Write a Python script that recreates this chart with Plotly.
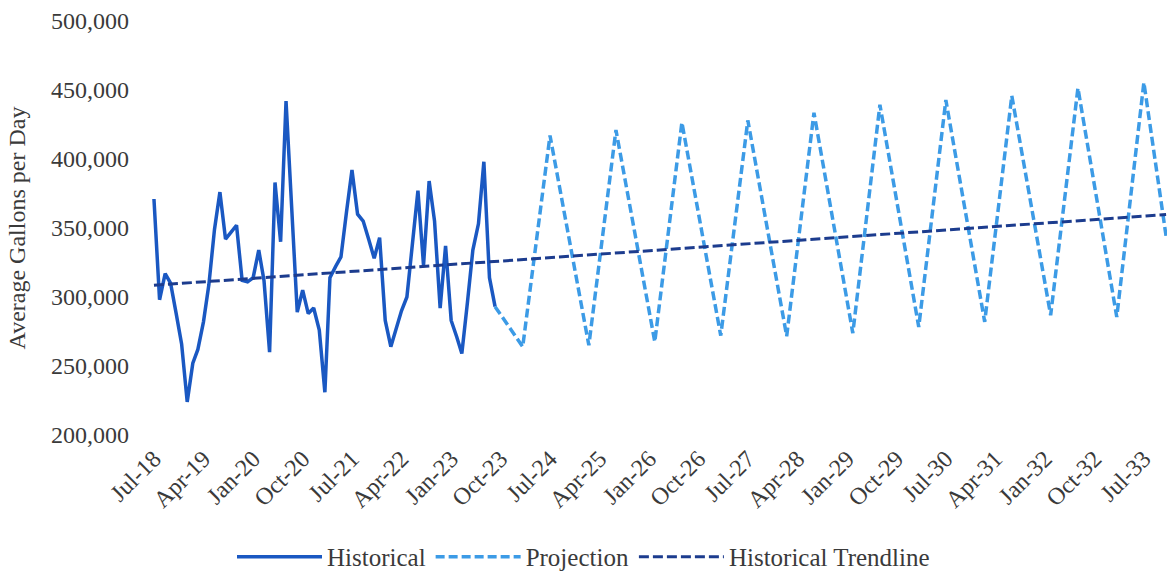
import plotly.graph_objects as go
import pandas as pd

# Historical monthly values, Jul-2018 .. Sep-2023 (gallons per day)
hist_start = "2018-07-01"
hist_values = [
    371000, 298000, 317000, 310000, 288000, 266000, 224000, 252000, 262000, 282000,
    309000, 349000, 376000, 342000, 347000, 352000, 312000, 311000, 314000, 334000,
    312000, 260000, 383000, 340000, 442000, 365000, 289000, 305000, 288000, 292000,
    276000, 231000, 314000, 322000, 329000, 362000, 392000, 360000, 355000, 342000,
    328000, 343000, 283000, 264000, 277000, 290000, 300000, 338000, 377000, 323000,
    384000, 355000, 292000, 337000, 283000, 271000, 259000, 296000, 334000, 353000,
    398000, 314000, 293000,
]
hist_dates = pd.date_range(hist_start, periods=len(hist_values), freq="MS")

# Projection turning points (seasonal lows in Feb, highs in Jul)
proj_dates = [
    "2023-09-01",
    "2024-02-01", "2024-07-01", "2025-02-01", "2025-07-01", "2026-02-01", "2026-07-01",
    "2027-02-01", "2027-07-01", "2028-02-01", "2028-07-01", "2029-02-01", "2029-07-01",
    "2030-02-01", "2030-07-01", "2031-02-01", "2031-07-01", "2032-02-01", "2032-07-01",
    "2033-02-01", "2033-07-01", "2033-11-01",
]
proj_values = [
    293000,
    264000, 417000, 265000, 421000, 267500, 426500,
    272000, 428000, 271600, 433500, 273800, 439300,
    278300, 442700, 282000, 445800, 286800, 451400,
    285500, 455500, 344000,
]

# Historical linear trendline endpoints
trend_dates = ["2018-07-01", "2033-11-01"]
trend_values = [308500, 359700]

FONT = "Liberation Serif"
TXT = "#3a3a3a"

fig = go.Figure()
fig.add_trace(go.Scatter(
    x=hist_dates, y=hist_values, mode="lines", name="Historical",
    line=dict(color="#1A58C2", width=3.5),
))
fig.add_trace(go.Scatter(
    x=proj_dates, y=proj_values, mode="lines", name="Projection",
    line=dict(color="#3C9BE6", width=3.5, dash="9px,4px"),
))
fig.add_trace(go.Scatter(
    x=trend_dates, y=trend_values, mode="lines", name="Historical Trendline",
    line=dict(color="#1C3C8E", width=3, dash="10px,4px"),
))

fig.update_layout(
    width=1167, height=573,
    margin=dict(l=148, r=0, t=21, b=138, autoexpand=False),
    paper_bgcolor="white", plot_bgcolor="white",
    font=dict(family=FONT, color=TXT, size=24),
    showlegend=True,
    legend=dict(
        orientation="h", xref="container", yref="container",
        x=0.5, xanchor="center", y=0.028, yanchor="middle",
        font=dict(size=25, family=FONT, color=TXT),
        itemwidth=85,
    ),
    xaxis=dict(
        type="date", automargin=False,
        range=["2018-05-29", "2033-11-06"],
        tick0="2018-07-01", dtick="M9", tickformat="%b-%y",
        tickangle=-45, showgrid=False, zeroline=False, showline=False,
        ticks="", ticklabelstandoff=4,
        tickfont=dict(size=24, family=FONT, color=TXT),
    ),
    yaxis=dict(
        automargin=False,
        range=[200000, 500000], dtick=50000, tickformat=",d",
        showgrid=False, zeroline=False, showline=False, ticks="",
        ticklabelstandoff=18,
        tickfont=dict(size=24, family=FONT, color=TXT),
        title=dict(text="Average Gallons per Day", font=dict(size=24, family=FONT, color=TXT), standoff=18),
    ),
)

fig.write_html(
    "out.html",
    config={"displayModeBar": False},
    post_script="document.body.style.margin='0';",
)
